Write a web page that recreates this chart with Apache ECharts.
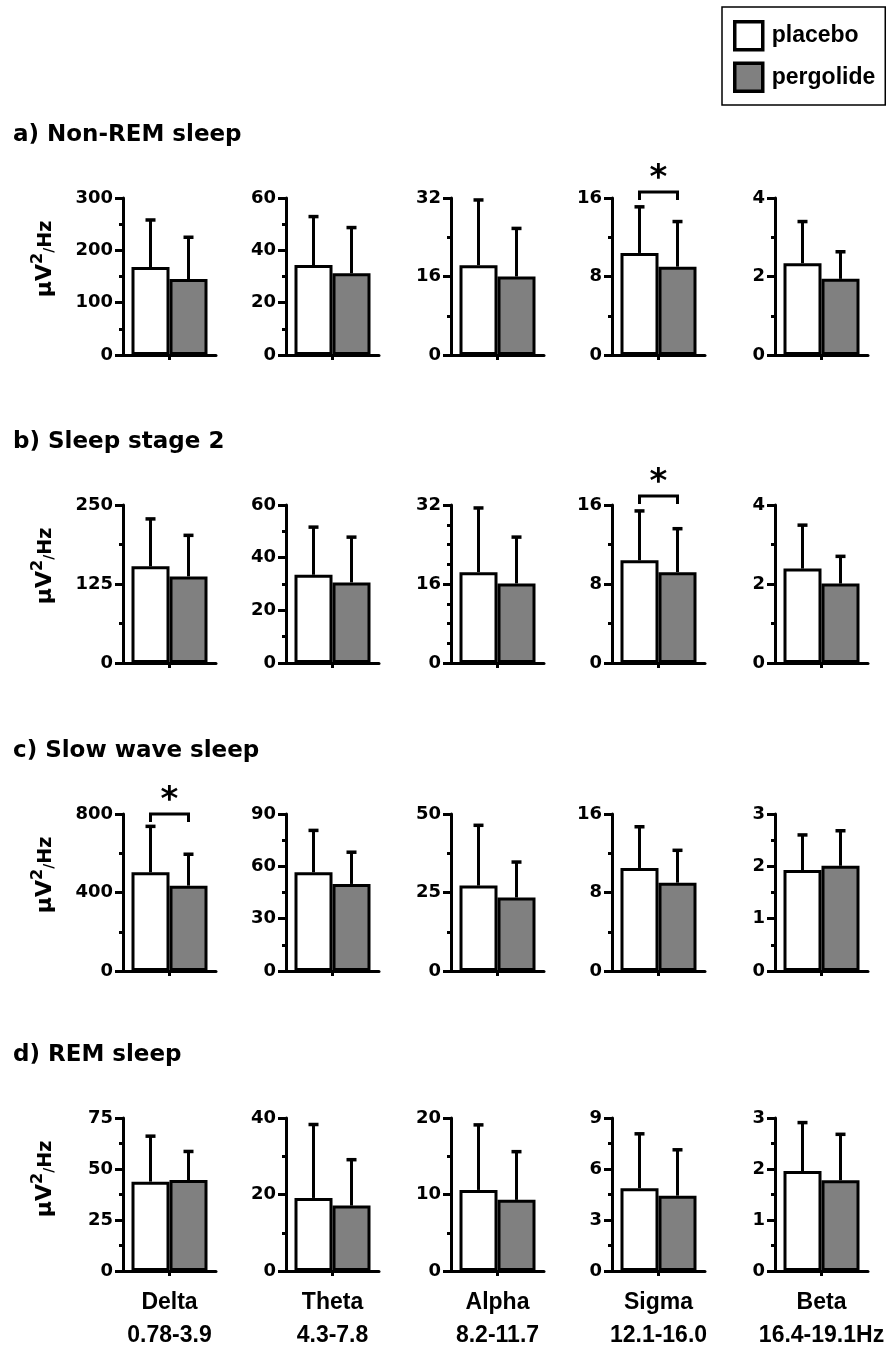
<!DOCTYPE html>
<html>
<head>
<meta charset="utf-8">
<script src="https://cdn.jsdelivr.net/npm/echarts@6/dist/echarts.min.js"></script>
<style>
  html, body { margin: 0; padding: 0; background: #fff; }
  #chart { width: 888px; height: 1352px; }
</style>
</head>
<body>
<div id="chart"></div>
<script>
// ---------------- DATA ----------------
const bandNames = ['Delta', 'Theta', 'Alpha', 'Sigma', 'Beta'];
const bandRanges = ['0.78-3.9', '4.3-7.8', '8.2-11.7', '12.1-16.0', '16.4-19.1Hz'];
const stageTitles = ['a) Non-REM sleep', 'b) Sleep stage 2', 'c) Slow wave sleep', 'd) REM sleep'];
const seriesNames = ['placebo', 'pergolide'];

// rows = sleep stage, columns = frequency band
const placeboMean = [
  [168, 34.4, 18.3, 10.4, 2.34],
  [153, 33.5, 18.4, 10.4, 2.39],
  [503, 56.6, 27.2, 10.5, 1.93],
  [43.8, 19.1, 10.6, 4.87, 1.96]
];
const placeboSD = [
  [90, 18.5, 13.3, 4.7, 1.06],
  [75, 18.1, 13.0, 5.0, 1.10],
  [234, 24.0, 19.2, 4.2, 0.67],
  [22.3, 19.2, 8.5, 3.2, 0.95]
];
const pergolideMean = [
  [145, 31.2, 16.0, 9.0, 1.94],
  [137, 30.6, 16.1, 9.2, 2.01],
  [435, 49.9, 23.4, 9.0, 2.01],
  [44.6, 17.1, 9.3, 4.43, 1.78]
];
const pergolideSD = [
  [80, 17.5, 9.8, 4.6, 0.69],
  [65, 17.2, 9.4, 4.4, 0.69],
  [160, 18.2, 11.3, 3.3, 0.67],
  [14.0, 12.0, 6.3, 2.7, 0.90]
];
// y-axis tick labels: 0 .. max by interval
const axisMax = [
  [300, 60, 32, 16, 4],
  [250, 60, 32, 16, 4],
  [800, 90, 50, 16, 3],
  [75, 40, 20, 9, 3]
];
const axisInterval = [
  [100, 20, 16, 8, 2],
  [125, 20, 16, 8, 2],
  [400, 30, 25, 8, 1],
  [25, 20, 10, 3, 1]
];
const minorSplits = [
  [2, 2, 2, 2, 2],
  [2, 2, 4, 2, 2],
  [2, 2, 2, 2, 2],
  [2, 2, 2, 2, 2]
];
// significance brackets: stage, band, bracket level (axis units)
const sigStage = [0, 1, 2];
const sigBand = [3, 3, 0];
const sigLevel = [16.6, 16.9, 800];

// ---------------- LAYOUT ----------------
const rowTop = [198, 505, 814, 1118];
const rowHeight = [157, 158, 157, 155];
const colLeft = [123, 286, 451, 612, 775];
const gridWidth = 93;
const BAR_W = 38;
const CAP = 5;

const grids = [], xAxes = [], yAxes = [], series = [], graphics = [];
const tickFont = { fontFamily: 'DejaVu Sans', fontWeight: 'bold', fontSize: 18, color: '#000' };

function errRender(params, api) {
  const mean = api.value(1), top = api.value(2), k = api.value(3);
  const base = api.coord([0, mean]);
  const tip = api.coord([0, top]);
  const x = base[0] + (k - 0.5) * BAR_W;
  return {
    type: 'group',
    children: [
      { type: 'line', shape: { x1: x, y1: base[1], x2: x, y2: tip[1] }, style: { stroke: '#000', lineWidth: 3 } },
      { type: 'line', shape: { x1: x - CAP, y1: tip[1], x2: x + CAP, y2: tip[1] }, style: { stroke: '#000', lineWidth: 3.5 } }
    ]
  };
}
function sigRender(params, api) {
  const p = api.coord([0, api.value(1)]);
  const x1 = p[0] - BAR_W / 2, x2 = p[0] + BAR_W / 2, y = p[1];
  return {
    type: 'group',
    children: [
      { type: 'polyline', shape: { points: [[x1, y + 8], [x1, y], [x2, y], [x2, y + 8]] }, style: { stroke: '#000', lineWidth: 3, fill: null } },
      { type: 'text', style: { text: '*', x: p[0], y: y - 13, align: 'center', verticalAlign: 'middle', fontFamily: 'DejaVu Sans', fontWeight: 'bold', fontSize: 34, fill: '#000' } }
    ]
  };
}

let idx = 0;
for (let r = 0; r < 4; r++) {
  graphics.push({
    type: 'text', x: 13, y: rowTop[r] - 63,
    style: { text: stageTitles[r], align: 'left', verticalAlign: 'middle', fontFamily: 'DejaVu Sans', fontWeight: 'bold', fontSize: 23, fill: '#000' }
  });
  graphics.push({
    type: 'text', x: 43, y: rowTop[r] + 61, rotation: Math.PI / 2,
    style: {
      text: '{a|μV}{b|2}{c|/}{d|Hz}',
      align: 'center', verticalAlign: 'middle',
      rich: {
        a: { fontFamily: 'DejaVu Sans', fontWeight: 'bold', fontSize: 22, lineHeight: 26, verticalAlign: 'bottom', fill: '#000' },
        b: { fontFamily: 'DejaVu Sans', fontWeight: 'bold', fontSize: 16, lineHeight: 16, verticalAlign: 'top', fill: '#000' },
        c: { fontFamily: 'DejaVu Sans', fontWeight: 'bold', fontSize: 14, lineHeight: 17, verticalAlign: 'bottom', fill: '#000' },
        d: { fontFamily: 'DejaVu Sans', fontWeight: 'bold', fontSize: 19, lineHeight: 23, verticalAlign: 'bottom', fill: '#000' }
      }
    }
  });
  for (let c = 0; c < 5; c++) {
    grids.push({ left: colLeft[c], top: rowTop[r], width: gridWidth, height: rowHeight[r] });
    xAxes.push({
      gridIndex: idx, type: 'category', data: [bandNames[c]],
      axisLine: { lineStyle: { color: '#000', width: 3 } },
      axisTick: { show: true, alignWithLabel: true, length: 5, lineStyle: { color: '#000', width: 3 } },
      axisLabel: {
        show: r === 3, margin: 15, interval: 0,
        formatter: (v) => v + '\n' + bandRanges[c],
        fontFamily: 'Liberation Sans', fontWeight: 'bold', fontSize: 23, lineHeight: 33, color: '#000'
      },
      splitLine: { show: false }
    });
    yAxes.push({
      gridIndex: idx, type: 'value', min: 0, max: axisMax[r][c], interval: axisInterval[r][c],
      axisLine: { show: true, lineStyle: { color: '#000', width: 3 } },
      axisTick: { show: true, length: 8, lineStyle: { color: '#000', width: 3 } },
      minorTick: { show: true, splitNumber: minorSplits[r][c], length: 4, lineStyle: { color: '#000', width: 3 } },
      splitLine: { show: false },
      minorSplitLine: { show: false },
      axisLabel: Object.assign({ margin: 10 }, tickFont)
    });
    series.push({
      name: seriesNames[0], type: 'bar', xAxisIndex: idx, yAxisIndex: idx,
      data: [placeboMean[r][c]], barWidth: BAR_W, barGap: '0%',
      itemStyle: { color: '#ffffff', borderColor: '#000', borderWidth: 3 }, z: 2
    });
    series.push({
      name: seriesNames[1], type: 'bar', xAxisIndex: idx, yAxisIndex: idx,
      data: [pergolideMean[r][c]], barWidth: BAR_W, barGap: '0%',
      itemStyle: { color: '#808080', borderColor: '#000', borderWidth: 3 }, z: 2
    });
    series.push({
      type: 'custom', xAxisIndex: idx, yAxisIndex: idx, renderItem: errRender, z: 3, silent: true,
      data: [
        [0, placeboMean[r][c], placeboMean[r][c] + placeboSD[r][c], 0],
        [0, pergolideMean[r][c], pergolideMean[r][c] + pergolideSD[r][c], 1]
      ]
    });
    idx++;
  }
}
for (let s = 0; s < sigStage.length; s++) {
  const gi = sigStage[s] * 5 + sigBand[s];
  series.push({
    type: 'custom', xAxisIndex: gi, yAxisIndex: gi, renderItem: sigRender, z: 4, silent: true, clip: false,
    data: [[0, sigLevel[s]]]
  });
}

const chart = echarts.init(document.getElementById('chart'), null, { renderer: 'canvas' });
chart.setOption({
  animation: false,
  backgroundColor: '#fff',
  grid: grids, xAxis: xAxes, yAxis: yAxes, series: series, graphic: graphics,
  legend: {
    orient: 'vertical', left: 722, top: 7,
    padding: [13, 10, 12, 11], itemGap: 10, itemWidth: 28, itemHeight: 28, icon: 'rect',
    borderColor: '#000', borderWidth: 1.5, backgroundColor: '#fff',
    itemStyle: { borderColor: '#000', borderWidth: 3.5 },
    textStyle: { fontFamily: 'Liberation Sans', fontWeight: 'bold', fontSize: 23, color: '#000', padding: [0, 0, 0, 4] },
    data: seriesNames
  }
});
</script>
</body>
</html>
